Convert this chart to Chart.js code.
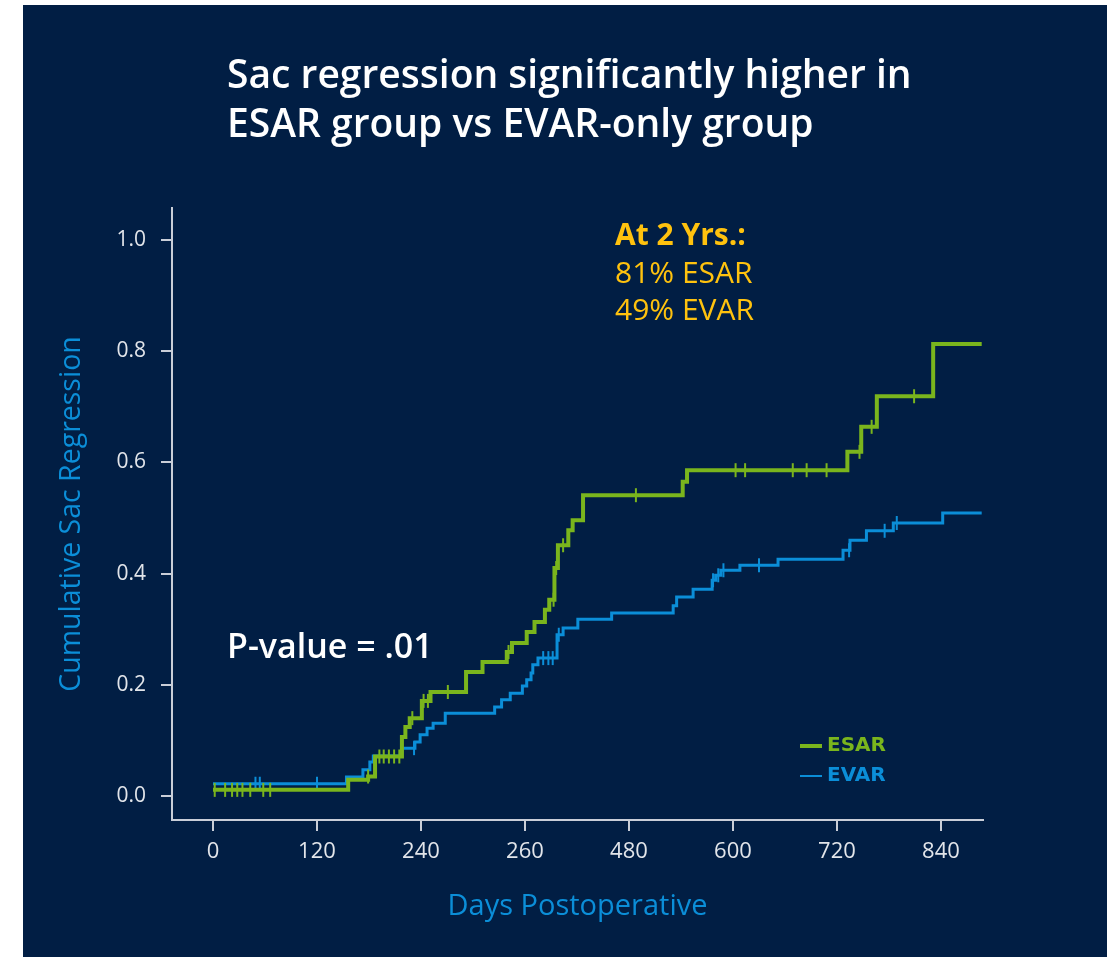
<!DOCTYPE html>
<html>
<head>
<meta charset="utf-8">
<title>Sac regression: ESAR vs EVAR-only</title>
<script src="https://cdn.jsdelivr.net/npm/chart.js@4.4.1/dist/chart.umd.min.js"></script>
<style>
  html, body { margin: 0; padding: 0; background: #ffffff; }
  #wrap { position: relative; width: 1114px; height: 957px; }
  canvas { display: block; }
</style>
</head>
<body>
<div id="wrap"><canvas id="km" width="1114" height="957"></canvas></div>
<script>
// Kaplan-Meier style cumulative sac regression (event days and cumulative values)
const esarDays   = [0, 156, 179, 187, 218, 222, 227, 241, 251, 292, 311, 339, 345, 362, 371, 383, 388, 394, 398, 410, 415, 427, 542, 547, 732, 748, 766, 831, 887];
const esarValues = [0.011, 0.029, 0.035, 0.071, 0.106, 0.124, 0.140, 0.171, 0.187, 0.223, 0.241, 0.259, 0.275, 0.295, 0.313, 0.335, 0.353, 0.410, 0.451, 0.478, 0.496, 0.541, 0.565, 0.586, 0.619, 0.664, 0.719, 0.813, 0.813];

const evarDays   = [0, 154, 173, 181, 185, 218, 233, 239, 247, 254, 268, 325, 333, 343, 357, 362, 367, 369, 375, 397, 404, 421, 460, 531, 535, 554, 576, 580, 586, 608, 652, 727, 735, 754, 785, 842, 887];
const evarValues = [0.022, 0.034, 0.047, 0.061, 0.072, 0.086, 0.097, 0.110, 0.122, 0.131, 0.149, 0.160, 0.173, 0.185, 0.198, 0.209, 0.221, 0.236, 0.248, 0.290, 0.302, 0.318, 0.329, 0.342, 0.358, 0.372, 0.388, 0.397, 0.406, 0.415, 0.426, 0.442, 0.460, 0.477, 0.491, 0.509, 0.509];

// Censored observations (days)
const esarCensorDays = [2, 14, 22, 28, 34, 43, 58, 66, 179, 192, 197, 203, 209, 215, 230, 243, 248, 271, 341, 393, 396, 404, 488, 603, 614, 669, 685, 708, 746, 760, 809];
const evarCensorDays = [49, 54, 120, 232, 381, 387, 392, 399, 577, 583, 589, 630, 734, 775, 789];

// Axis ticks
const xTickValues = [0, 120, 240, 360, 480, 600, 720, 840];
const xTickLabels = ['0', '120', '240', '260', '480', '600', '720', '840'];
const yTickValues = [0, 0.2, 0.4, 0.6, 0.8, 1.0];

const seriesNames = ['ESAR', 'EVAR'];

const GREEN = '#7ab51d';
const BLUE = '#0b8ed8';
const NAVY = '#011e44';
const AXIS = '#c9ced8';
const TICK_TEXT = '#e2e5ea';
const GOLD = '#ffc20e';

function toPoints(days, vals) {
  return days.map((d, i) => ({ x: d, y: vals[i] }));
}
// value of a step curve at a given day
function levelAt(days, vals, day) {
  let v = vals[0];
  for (let i = 0; i < days.length; i++) {
    if (days[i] <= day) v = vals[i]; else break;
  }
  return v;
}
function censorPoints(cDays, days, vals) {
  return cDays.map(d => ({ x: d, y: levelAt(days, vals, d) }));
}

const decorations = {
  id: 'decorations',
  beforeDraw(chart) {
    const ctx = chart.ctx;
    ctx.save();
    ctx.fillStyle = '#ffffff';
    ctx.fillRect(0, 0, chart.width, chart.height);
    ctx.fillStyle = NAVY;
    ctx.fillRect(23, 5, 1084, 952);
    ctx.restore();
  },
  afterDraw(chart) {
    const ctx = chart.ctx;
    ctx.save();
    ctx.textBaseline = 'alphabetic';
    ctx.textAlign = 'left';

    // heading
    ctx.fillStyle = '#ffffff';
    ctx.font = '600 39px "Open Sans"';
    ctx.fillText('Sac regression significantly higher in', 227, 88);
    ctx.fillText('ESAR group vs EVAR-only group', 227, 137);

    // two-year summary
    ctx.fillStyle = GOLD;
    ctx.font = 'bold 30px "Open Sans"';
    ctx.fillText('At 2 Yrs.:', 615, 245);
    ctx.font = '30px "Open Sans"';
    ctx.fillText('81% ESAR', 615, 283);
    ctx.fillText('49% EVAR', 615, 320);

    // log-rank p value
    ctx.fillStyle = '#ffffff';
    ctx.font = '600 34px "Open Sans"';
    ctx.fillText('P-value = .01', 227, 658);

    // legend
    ctx.font = 'bold 20px "DejaVu Sans"';
    ctx.textBaseline = 'middle';
    ctx.lineCap = 'butt';
    ctx.strokeStyle = GREEN; ctx.lineWidth = 4;
    ctx.beginPath(); ctx.moveTo(800, 746); ctx.lineTo(822, 746); ctx.stroke();
    ctx.fillStyle = GREEN;
    ctx.fillText(seriesNames[0], 827, 746);
    ctx.strokeStyle = BLUE; ctx.lineWidth = 2;
    ctx.beginPath(); ctx.moveTo(800, 776); ctx.lineTo(822, 776); ctx.stroke();
    ctx.fillStyle = BLUE;
    ctx.fillText(seriesNames[1], 827, 776);
    ctx.restore();
  }
};

new Chart(document.getElementById('km'), {
  type: 'line',
  data: {
    datasets: [
      {
        label: seriesNames[0] + ' censored',
        data: censorPoints(esarCensorDays, esarDays, esarValues),
        showLine: false,
        pointStyle: 'line',
        rotation: 90,
        pointRadius: 7,
        pointBorderWidth: 2,
        pointBorderColor: GREEN,
        pointBackgroundColor: GREEN
      },
      {
        label: seriesNames[0],
        data: toPoints(esarDays, esarValues),
        stepped: 'before',
        borderColor: GREEN,
        borderWidth: 4,
        borderJoinStyle: 'miter',
        pointRadius: 0,
        fill: false
      },
      {
        label: seriesNames[1] + ' censored',
        data: censorPoints(evarCensorDays, evarDays, evarValues),
        showLine: false,
        pointStyle: 'line',
        rotation: 90,
        pointRadius: 7,
        pointBorderWidth: 2,
        pointBorderColor: BLUE,
        pointBackgroundColor: BLUE
      },
      {
        label: seriesNames[1],
        data: toPoints(evarDays, evarValues),
        stepped: 'before',
        borderColor: BLUE,
        borderWidth: 3,
        borderJoinStyle: 'miter',
        pointRadius: 0,
        fill: false
      }
    ]
  },
  options: {
    responsive: false,
    devicePixelRatio: 1,
    animation: false,
    layout: { padding: { left: 0, right: 131, top: 208, bottom: 0 } },
    plugins: {
      legend: { display: false },
      tooltip: { enabled: false },
      title: { display: false }
    },
    scales: {
      x: {
        type: 'linear',
        min: -47.3,
        max: 888.5,
        afterBuildTicks: s => { s.ticks = xTickValues.map(v => ({ value: v })); },
        afterFit: s => { s.height = 137; },
        ticks: {
          autoSkip: false,
          maxRotation: 0,
          padding: 8,
          color: TICK_TEXT,
          font: { family: 'Open Sans', size: 22 },
          callback: (v) => xTickLabels[xTickValues.indexOf(v)]
        },
        grid: { drawOnChartArea: false, drawTicks: true, tickLength: 11, color: AXIS, lineWidth: 2 },
        border: { display: true, color: AXIS, width: 2 },
        title: {
          display: true,
          text: 'Days Postoperative',
          color: BLUE,
          font: { family: 'Open Sans', size: 29, lineHeight: 1.2 },
          padding: { top: 0, bottom: 33 }
        }
      },
      y: {
        type: 'linear',
        min: -0.0432,
        max: 1.0576,
        afterBuildTicks: s => { s.ticks = yTickValues.map(v => ({ value: v })); },
        afterFit: s => { s.width = 172; },
        ticks: {
          padding: 15,
          color: TICK_TEXT,
          font: { family: 'Open Sans', size: 21 },
          callback: v => Number(v).toFixed(1)
        },
        grid: { drawOnChartArea: false, drawTicks: true, tickLength: 11, color: AXIS, lineWidth: 2 },
        border: { display: true, color: AXIS, width: 2 },
        title: {
          display: true,
          text: 'Cumulative Sac Regression',
          color: BLUE,
          font: { family: 'Open Sans', size: 28.5, lineHeight: 1.2 },
          padding: { top: 55, bottom: 0 }
        }
      }
    }
  },
  plugins: [decorations]
});
</script>
</body>
</html>
